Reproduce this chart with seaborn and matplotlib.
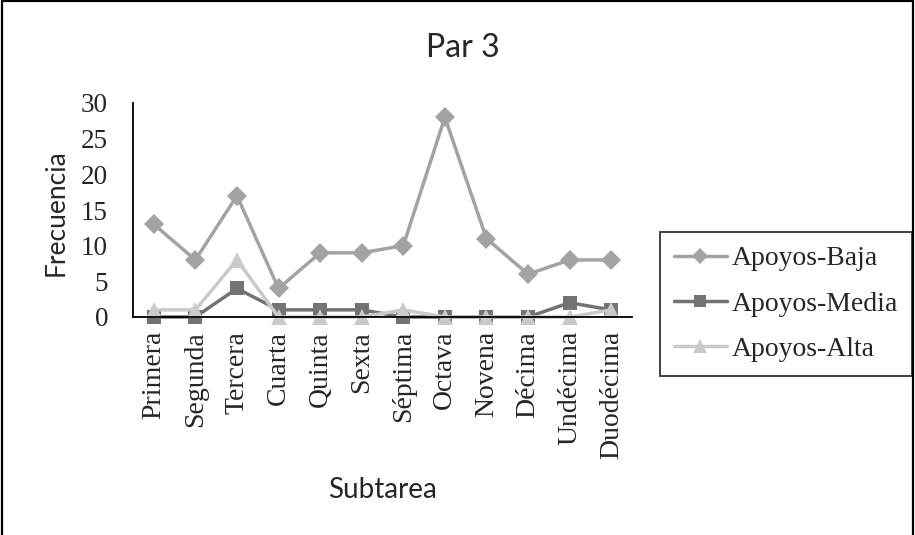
import matplotlib
matplotlib.use("Agg")
import matplotlib.pyplot as plt
from matplotlib.lines import Line2D
import seaborn as sns
import pandas as pd
import numpy as np

# Data
subtareas = ["Primera", "Segunda", "Tercera", "Cuarta", "Quinta", "Sexta",
             "Séptima", "Octava", "Novena", "Décima", "Undécima", "Duodécima"]
apoyos_baja = [13, 8, 17, 4, 9, 9, 10, 28, 11, 6, 8, 8]
apoyos_media = [0, 0, 4, 1, 1, 1, 0, 0, 0, 0, 2, 1]
apoyos_alta = [1, 1, 8, 0, 0, 0, 1, 0, 0, 0, 0, 1]
series_names = ["Apoyos-Baja", "Apoyos-Media", "Apoyos-Alta"]
y_ticks = [0, 5, 10, 15, 20, 25, 30]

df = pd.DataFrame({
    "Subtarea": subtareas * 3,
    "Frecuencia": apoyos_baja + apoyos_media + apoyos_alta,
    "Serie": np.repeat(series_names, len(subtareas)),
})
df["pos"] = np.tile(np.arange(len(subtareas)), 3)

palette = {"Apoyos-Baja": "#a3a3a3", "Apoyos-Media": "#737373", "Apoyos-Alta": "#cacaca"}
markers = {"Apoyos-Baja": "D", "Apoyos-Media": "s", "Apoyos-Alta": "^"}
plot_msize = {"Apoyos-Baja": 10.5, "Apoyos-Media": 9.5, "Apoyos-Alta": 12}
legend_msize = {"Apoyos-Baja": 8, "Apoyos-Media": 9, "Apoyos-Alta": 10.5}

sns.set_style("white")
serif = ["Liberation Serif", "DejaVu Serif"]
sans = ["Lato", "DejaVu Sans"]

fig = plt.figure(figsize=(9.15, 5.35), dpi=100)
ax = fig.add_axes([133 / 915, 1 - 317 / 535, (632 - 133) / 915, (317 - 103) / 535])

sns.lineplot(data=df, x="pos", y="Frecuencia", hue="Serie", style="Serie",
             hue_order=series_names, style_order=series_names,
             palette=palette, markers=markers, dashes=False,
             linewidth=2.5, markersize=9, markeredgewidth=0,
             sort=False, legend=False, ax=ax)

# per-series marker sizes, markers allowed to overlap the axis line
for line, name in zip(ax.lines, series_names):
    line.set_markersize(plot_msize[name])
    line.set_clip_on(False)

ax.set_xlim(-0.5, len(subtareas) - 0.5)
ax.set_ylim(0, 30)
ax.set_yticks(y_ticks)
ax.set_yticklabels([str(v) for v in y_ticks], fontfamily=serif, fontsize=19.5)
ax.set_xticks(np.arange(len(subtareas)))
ax.set_xticklabels(subtareas, rotation=90, fontfamily=serif, fontsize=20)
ax.set_xticks(np.arange(len(subtareas) + 1) - 0.5, minor=True)
ax.tick_params(axis="x", which="major", length=0, pad=10)
ax.tick_params(axis="x", which="minor", length=6, width=1.3, color="black", direction="out")
ax.tick_params(axis="y", which="major", length=6, width=1.3, color="black",
               direction="out", pad=12)

for side in ["top", "right"]:
    ax.spines[side].set_visible(False)
for side in ["left", "bottom"]:
    ax.spines[side].set_color("black")
    ax.spines[side].set_linewidth(1.3)

ax.set_xlabel("")
ax.set_ylabel("")
fig.text(382 / 915, 1 - 490 / 535, "Subtarea", ha="center", va="center",
         fontfamily=sans, fontsize=20)
fig.text(56 / 915, 1 - 213 / 535, "Frecuencia", ha="center", va="center",
         rotation=90, fontfamily=sans, fontsize=19)
fig.text(463 / 915, 1 - 48 / 535, "Par 3", ha="center", va="center",
         fontfamily=sans, fontsize=23)

handles = [Line2D([], [], color=palette[n], marker=markers[n], linewidth=2.5,
                  markersize=legend_msize[n], markeredgewidth=0)
           for n in series_names]
leg = fig.legend(handles, series_names, loc="upper left",
                 bbox_to_anchor=(660 / 915, 1 - 232 / 535),
                 bbox_transform=fig.transFigure,
                 prop={"family": serif, "size": 20},
                 frameon=True, fancybox=False, edgecolor="black",
                 handlelength=1.9, labelspacing=0.72, borderpad=0.5,
                 handletextpad=0.2, borderaxespad=0)
leg.get_frame().set_linewidth(1.3)

# Outer frame of the figure
for xs, ys in [([0.002, 0.002], [0, 0.998]), ([0.002, 0.998], [0.998, 0.998]),
               ([0.998, 0.998], [0.998, 0])]:
    fig.add_artist(Line2D(xs, ys, transform=fig.transFigure, color="black", linewidth=1.6))

fig.savefig("out.png", dpi=100)
